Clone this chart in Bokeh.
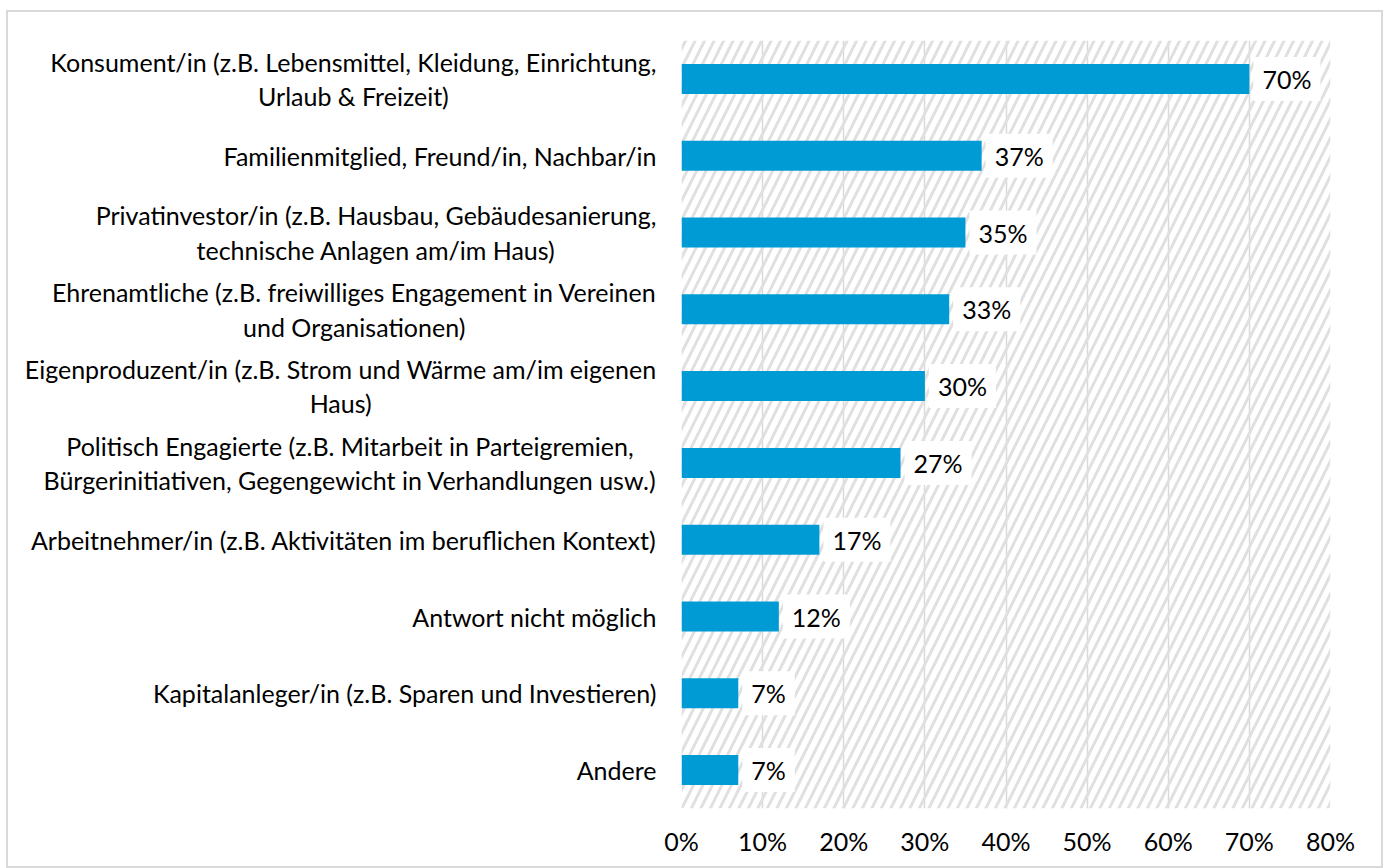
from bokeh.plotting import figure
from bokeh.layouts import row
from bokeh.models import BoxAnnotation, NumeralTickFormatter, FixedTicker, ColumnDataSource
from bokeh.core.properties import value
from bokeh.embed import file_html
from bokeh.resources import INLINE

categories = [
    "Konsument/in (z.B. Lebensmittel, Kleidung, Einrichtung,\nUrlaub & Freizeit)",
    "Familienmitglied, Freund/in, Nachbar/in",
    "Privatinvestor/in (z.B. Hausbau, Gebäudesanierung,\ntechnische Anlagen am/im Haus)",
    "Ehrenamtliche (z.B. freiwilliges Engagement in Vereinen\nund Organisationen)",
    "Eigenproduzent/in (z.B. Strom und Wärme am/im eigenen\nHaus)",
    "Politisch Engagierte (z.B. Mitarbeit in Parteigremien,\nBürgerinitiativen, Gegengewicht in Verhandlungen usw.)",
    "Arbeitnehmer/in (z.B. Aktivitäten im beruflichen Kontext)",
    "Antwort nicht möglich",
    "Kapitalanleger/in (z.B. Sparen und Investieren)",
    "Andere",
]
shares = [0.70, 0.37, 0.35, 0.33, 0.30, 0.27, 0.17, 0.12, 0.07, 0.07]
share_labels = ["70%", "37%", "35%", "33%", "30%", "27%", "17%", "12%", "7%", "7%"]
x_ticks = [0, 0.1, 0.2, 0.3, 0.4, 0.5, 0.6, 0.7, 0.8]

FONT = "Lato"
FS = "25px"
CAT_FS = "25px"

src = ColumnDataSource(dict(cat=categories, val=shares, lab=share_labels,
                            pos=[1.0] * len(categories)))
y_range_factors = list(reversed(categories))

H = 854
TOP = 28
BOTTOM = 58

# main chart
p = figure(
    width=725, height=H,
    y_range=y_range_factors, x_range=(0, 0.8),
    output_backend="svg", toolbar_location=None,
    min_border_left=25, min_border_right=51, min_border_top=TOP, min_border_bottom=BOTTOM,
)
p.outline_line_color = None
p.background_fill_color = "white"
p.border_fill_color = "white"

hatch = BoxAnnotation(left=0, right=0.8, fill_alpha=0, line_color=None,
                      hatch_pattern="/", hatch_color="#e0e0e0", hatch_weight=3,
                      hatch_scale=19, level="underlay")
p.add_layout(hatch)

p.hbar(y="cat", right="val", left=0, height=0.39, source=src,
       fill_color="#009BD5", line_color=None)

p.text(x="val", y="cat", text="lab", source=src, x_offset=4,
       text_baseline="middle", text_align="left",
       text_font=value(FONT), text_font_size=FS, text_color="#000000",
       background_fill_color="white", padding=(9, 7))

p.xgrid.ticker = FixedTicker(ticks=x_ticks)
p.xgrid.grid_line_color = "#d9d9d9"
p.xgrid.grid_line_width = 1.5
p.ygrid.grid_line_color = None
p.yaxis.visible = False

p.xaxis.ticker = FixedTicker(ticks=x_ticks)
p.xaxis.formatter = NumeralTickFormatter(format="0%")
p.xaxis.axis_line_color = None
p.xaxis.major_tick_line_color = None
p.xaxis.minor_tick_line_color = None
p.xaxis.major_tick_out = 0
p.xaxis.major_label_text_font = FONT
p.xaxis.major_label_text_font_size = FS
p.xaxis.major_label_text_color = "#000000"
p.xaxis.major_label_standoff = 17

# category labels panel (shares the y scale)
q = figure(
    width=648, height=H,
    y_range=p.y_range, x_range=(0, 1),
    output_backend="svg", toolbar_location=None,
    min_border_left=0, min_border_right=0, min_border_top=TOP, min_border_bottom=BOTTOM,
)
q.outline_line_color = None
q.axis.visible = False
q.grid.visible = False
q.text(x="pos", y="cat", text="cat", source=src,
       anchor="center_right", text_align="center", text_baseline="middle",
       text_font=value(FONT), text_font_size=CAT_FS, text_color="#000000",
       text_line_height=1.15)

layout = row(q, p)
layout.margin = (10, 0, 0, 6)
layout.styles = {"border": "2px solid #d9d9d9", "box-sizing": "content-box"}

open("out.html", "w").write(file_html(layout, INLINE))
